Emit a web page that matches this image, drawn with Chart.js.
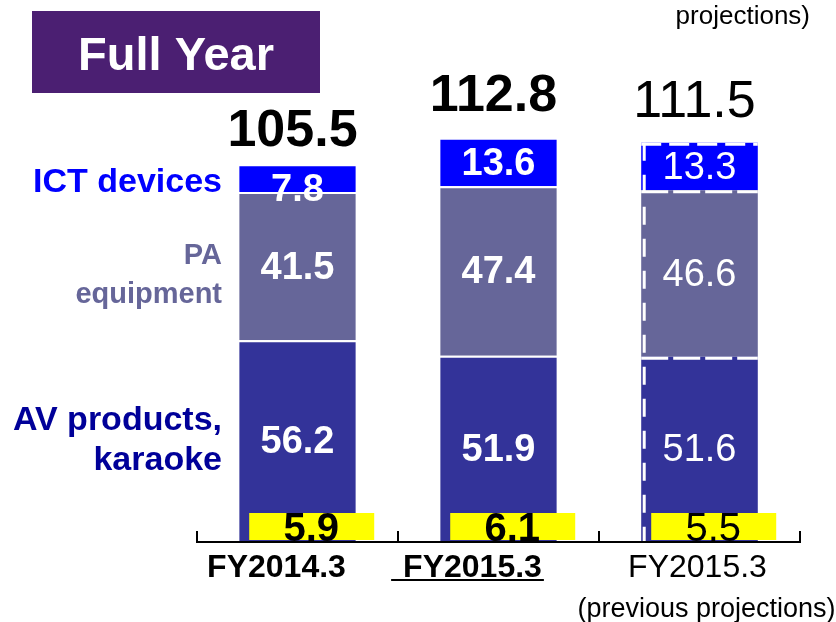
<!DOCTYPE html>
<html>
<head>
<meta charset="utf-8">
<script src="https://cdn.jsdelivr.net/npm/chart.js@4.4.0/dist/chart.umd.min.js"></script>
<style>
  html, body { margin: 0; padding: 0; background: #fff; }
  #wrap { width: 836px; height: 622px; }
</style>
</head>
<body>
<div id="wrap"><canvas id="myChart" width="836" height="622"></canvas></div>
<script>
const categories = ["FY2014.3", "FY2015.3", "FY2015.3"];
const avProducts = [56.2, 51.9, 51.6];
const paEquipment = [41.5, 47.4, 46.6];
const ictDevices = [7.8, 13.6, 13.3];
const totals = [105.5, 112.8, 111.5];
const others = [5.9, 6.1, 5.5];

const FONT = "'Liberation Sans', Arial, sans-serif";
const colors = { av: '#333399', pa: '#666699', ict: '#0000ff' };

// bar 3 is the previous projection: thin weights + dashed outline
const isPrev = i => i === 2;
const weight = i => isPrev(i) ? 'normal' : 'bold';

const overlay = {
    id: 'overlay',
    afterDatasetsDraw(chart) {
        const { ctx, chartArea, scales: { x, y } } = chart;
        const metas = [0, 1, 2].map(d => chart.getDatasetMeta(d));
        ctx.save();

        // title box
        ctx.fillStyle = '#4b1f72';
        ctx.fillRect(32, 11, 288, 82);
        ctx.fillStyle = '#fff';
        ctx.font = 'bold 47px ' + FONT;
        ctx.textAlign = 'center';
        ctx.textBaseline = 'alphabetic';
        ctx.fillText('Full Year', 176, 70);

        // dashed outline on the projection bar
        ctx.strokeStyle = '#fff';
        ctx.lineWidth = 3;
        metas.forEach((m, d) => {
            const el = m.data[2];
            const left = el.x - el.width / 2;
            ctx.setLineDash(d === 2 ? [20, 8] : [27, 5]);
            ctx.beginPath();
            ctx.moveTo(left, el.y + 1.5);
            ctx.lineTo(left + el.width, el.y + 1.5);
            ctx.stroke();
        });
        {
            const top = metas[2].data[2];
            const left = top.x - top.width / 2 + 3;
            ctx.setLineDash([18, 14]);
            ctx.beginPath();
            ctx.moveTo(left, top.y);
            ctx.lineTo(left, y.getPixelForValue(0));
            ctx.stroke();
        }
        ctx.setLineDash([]);

        // segment values
        const series = [avProducts, paEquipment, ictDevices];
        ctx.fillStyle = '#fff';
        ctx.textBaseline = 'middle';
        metas.forEach((m, d) => {
            m.data.forEach((el, i) => {
                let cy = (el.y + el.base) / 2 + 2;
                if (d === 2 && i === 0) cy += 10;
                ctx.font = weight(i) + ' 38px ' + FONT;
                ctx.fillText(series[d][i].toFixed(1), el.x, cy);
            });
        });

        // totals above bars
        const totalNudge = [2, -7, -6];
        ctx.fillStyle = '#000';
        ctx.textBaseline = 'alphabetic';
        metas[2].data.forEach((el, i) => {
            ctx.font = weight(i) + ' 52px ' + FONT;
            ctx.fillText(totals[i].toFixed(1), el.x - 5, el.y - 20 + totalNudge[i]);
        });

        // yellow "other" boxes
        const base = y.getPixelForValue(0);
        metas[0].data.forEach((el, i) => {
            const left = el.x - el.width / 2 + 10;
            ctx.fillStyle = '#ffff00';
            ctx.fillRect(left, base - 28, 125, 27);
            ctx.fillStyle = '#000';
            ctx.font = weight(i) + ' 40px ' + FONT;
            ctx.fillText(others[i].toFixed(1), left + 62, base);
        });

        // axis line and ticks
        ctx.strokeStyle = '#000';
        ctx.lineWidth = 2;
        ctx.beginPath();
        ctx.moveTo(chartArea.left, base + 1);
        ctx.lineTo(chartArea.right, base + 1);
        const step = (chartArea.right - chartArea.left) / categories.length;
        for (let k = 0; k <= categories.length; k++) {
            const tx = chartArea.left + k * step;
            ctx.moveTo(tx, base + 2);
            ctx.lineTo(tx, base - 10);
        }
        ctx.stroke();

        // category labels
        const dx = [-21, -26, -2];
        ctx.fillStyle = '#000';
        categories.forEach((c, i) => {
            const cx = x.getPixelForValue(i) + dx[i];
            ctx.font = weight(i) + ' 32px ' + FONT;
            ctx.fillText(c, cx, base + 36);
            if (i === 1) {
                const w = ctx.measureText(c).width;
                ctx.fillRect(cx - w / 2 - 12, base + 38, w + 14, 2);
            }
        });
        ctx.font = '27px ' + FONT;
        ctx.fillText('(previous projections)', x.getPixelForValue(2) + 7, base + 76);
        ctx.font = '26px ' + FONT;
        ctx.textAlign = 'right';
        ctx.fillText('projections)', 810, 24);

        // series names on the left
        const first = metas.map(m => m.data[0]);
        const mid = el => (el.y + el.base) / 2;
        ctx.textBaseline = 'middle';
        ctx.font = 'bold 34px ' + FONT;
        ctx.fillStyle = colors.ict;
        ctx.fillText('ICT devices', 222, mid(first[2]) + 4);
        ctx.font = 'bold 29px ' + FONT;
        ctx.fillStyle = colors.pa;
        ctx.fillText('PA', 222, mid(first[1]) - 10);
        ctx.fillText('equipment', 222, mid(first[1]) + 29);
        ctx.font = 'bold 34px ' + FONT;
        ctx.fillStyle = '#000099';
        ctx.fillText('AV products,', 222, mid(first[0]) - 20);
        ctx.fillText('karaoke', 222, mid(first[0]) + 20);

        ctx.restore();
    }
};

const canvas = document.getElementById('myChart');
new Chart(canvas.getContext('2d'), {
    type: 'bar',
    data: {
        labels: categories,
        datasets: [
            { label: 'AV products, karaoke', data: avProducts, backgroundColor: colors.av },
            { label: 'PA equipment', data: paEquipment, backgroundColor: colors.pa },
            { label: 'ICT devices', data: ictDevices, backgroundColor: colors.ict }
        ].map(ds => Object.assign(ds, {
            borderColor: '#fff',
            borderWidth: ctx => isPrev(ctx.dataIndex) ? 0 : { top: 2, left: 0, right: 0, bottom: 0 },
            borderSkipped: false,
            categoryPercentage: 1,
            barPercentage: 0.58
        }))
    },
    options: {
        responsive: false,
        animation: false,
        layout: { padding: { left: 197, right: 36, top: 41, bottom: 81 } },
        plugins: { legend: { display: false }, tooltip: { enabled: false } },
        scales: {
            x: { stacked: true, display: false },
            y: { stacked: true, display: false, min: 0, max: 140 }
        }
    },
    plugins: [overlay]
});
</script>
</body>
</html>
